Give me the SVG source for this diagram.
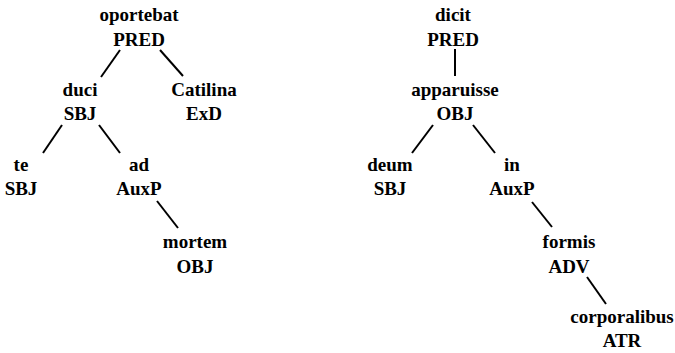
<svg xmlns="http://www.w3.org/2000/svg" width="675" height="353" viewBox="0 0 675 353">
<style>
.t text{font-weight:bold;font-size:19px;fill:#000;text-anchor:middle}
.e{stroke:#000;stroke-width:2;fill:none}
</style>
<rect width="675" height="353" fill="#fff"/>
<g id="connectors">
<line class="e" x1="120" y1="50" x2="101" y2="77"/>
<line class="e" x1="160" y1="50" x2="183" y2="76"/>
<line class="e" x1="62" y1="125" x2="43" y2="153"/>
<line class="e" x1="99" y1="125" x2="120" y2="153"/>
<line class="e" x1="157" y1="201" x2="178" y2="228"/>
<line class="e" x1="455" y1="49" x2="455" y2="76"/>
<line class="e" x1="433" y1="125" x2="412" y2="153"/>
<line class="e" x1="473" y1="125" x2="495" y2="153"/>
<line class="e" x1="532" y1="202" x2="552" y2="227"/>
<line class="e" x1="587" y1="277" x2="606" y2="304"/>
</g>
<g class="t" font-family="'Liberation Serif', 'Times New Roman', serif">
<g id="n-oportebat"><text x="139" y="21">oportebat</text><text x="139" y="46">PRED</text></g>
<g id="n-duci"><text x="80" y="96">duci</text><text x="80" y="120">SBJ</text></g>
<g id="n-catilina"><text x="204" y="96">Catilina</text><text x="204" y="120">ExD</text></g>
<g id="n-te"><text x="21" y="171">te</text><text x="21" y="195">SBJ</text></g>
<g id="n-ad"><text x="139" y="171">ad</text><text x="139" y="195">AuxP</text></g>
<g id="n-mortem"><text x="195" y="248">mortem</text><text x="195" y="273">OBJ</text></g>
<g id="n-dicit"><text x="453" y="21">dicit</text><text x="453" y="46">PRED</text></g>
<g id="n-apparuisse"><text x="455" y="96">apparuisse</text><text x="455" y="120">OBJ</text></g>
<g id="n-deum"><text x="390" y="171">deum</text><text x="390" y="195">SBJ</text></g>
<g id="n-in"><text x="512" y="171">in</text><text x="512" y="195">AuxP</text></g>
<g id="n-formis"><text x="569" y="248">formis</text><text x="569" y="273">ADV</text></g>
<g id="n-corporalibus"><text x="622" y="323">corporalibus</text><text x="622" y="347">ATR</text></g>
</g>
</svg>
